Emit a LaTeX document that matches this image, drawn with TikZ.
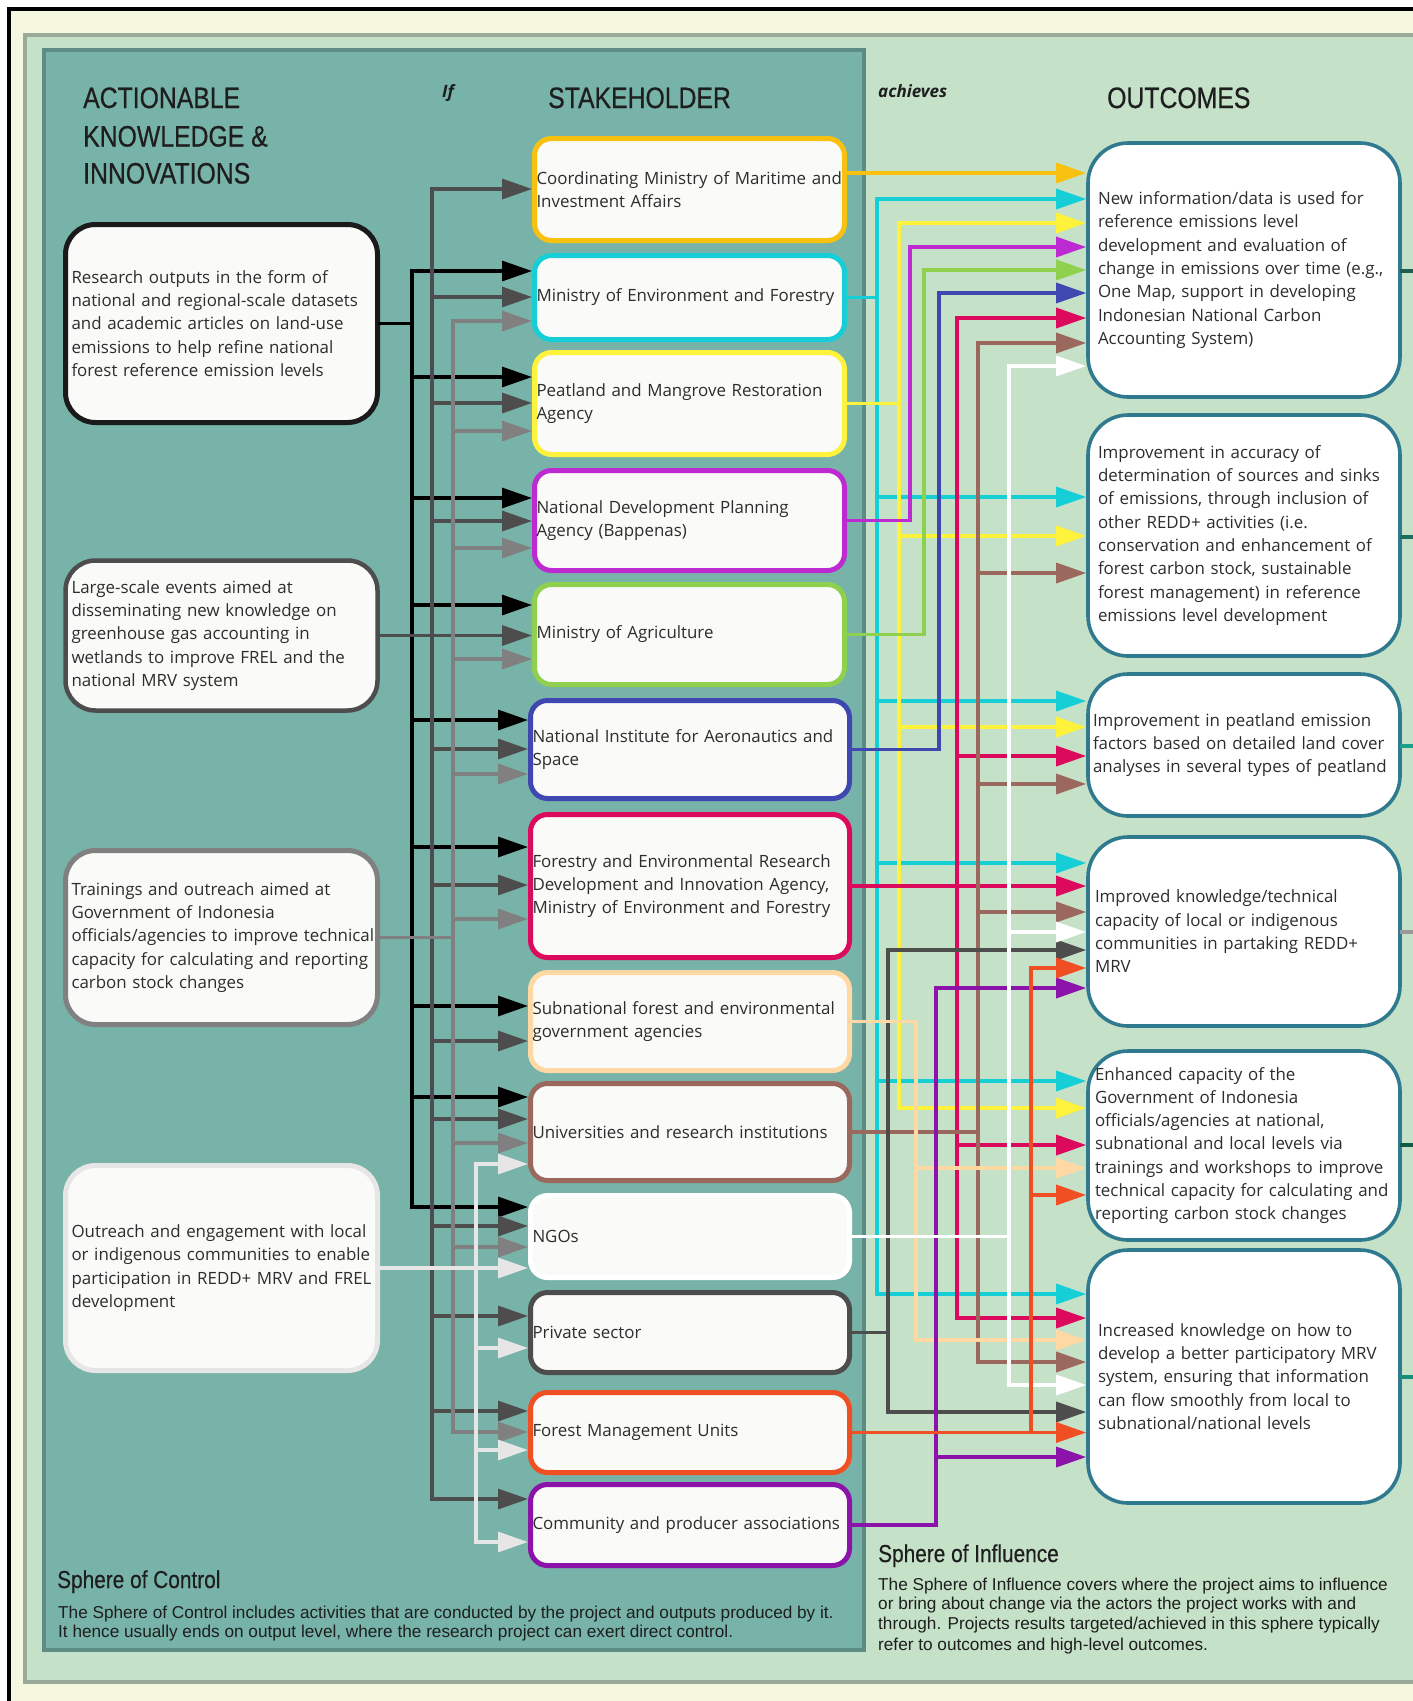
\documentclass[tikz,border=0pt]{standalone}
\usepackage{fontspec}
\setmainfont{Open Sans}
\newfontfamily\hdfont[FakeStretch=0.84,FakeBold=0.5]{Liberation Sans}
\newfontfamily\sphfont[FakeStretch=0.85,FakeBold=0.3]{Liberation Sans}
\newfontfamily\arfont{Liberation Sans}
\usetikzlibrary{arrows.meta}
\definecolor{bgOut}{HTML}{F5F8DF}
\definecolor{infl}{HTML}{C5E1C8}
\definecolor{inflB}{HTML}{99AA99}
\definecolor{ctrl}{HTML}{77B3A8}
\definecolor{ctrlB}{HTML}{5D8C84}
\definecolor{boxF}{HTML}{FAFAF8}
\definecolor{txt}{HTML}{2D2D2D}
\definecolor{hdc}{HTML}{1E1E1E}
\definecolor{outB}{HTML}{2F7A8E}
\definecolor{cK}{HTML}{000000}
\definecolor{cKb}{HTML}{1A1A1A}
\definecolor{cD}{HTML}{4D4D4D}
\definecolor{cG}{HTML}{808080}
\definecolor{cL}{HTML}{E6E6E6}
\definecolor{cGold}{HTML}{F9C10F}
\definecolor{cCy}{HTML}{16CED6}
\definecolor{cYe}{HTML}{FFF23D}
\definecolor{cPu}{HTML}{BE2AD2}
\definecolor{cGr}{HTML}{8FD14F}
\definecolor{cBl}{HTML}{3F48B0}
\definecolor{cCr}{HTML}{DC0A5C}
\definecolor{cPe}{HTML}{FFD8A3}
\definecolor{cBr}{HTML}{9B685E}
\definecolor{cWh}{HTML}{FFFFFF}
\definecolor{cOr}{HTML}{F04E23}
\definecolor{cPv}{HTML}{8C13A9}
\definecolor{st1}{HTML}{1F5E50}
\definecolor{st2}{HTML}{1D6E60}
\definecolor{st3}{HTML}{1AA08A}
\definecolor{st4}{HTML}{999999}
\definecolor{st5}{HTML}{0E5C48}
\definecolor{st6}{HTML}{178F7A}
\newcommand\ml[1]{\mbox{#1}}
\tikzset{
 body/.style={font=\fontsize{16.9}{23.3}\selectfont, text=txt},
 abox/.style={draw, line width=5pt, rounded corners=30pt, fill=boxF, inner xsep=6pt, inner ysep=0pt, align=left, body, minimum width=312pt, text width=300pt},
 sbox/.style={draw, line width=5pt, rounded corners=17pt, fill=boxF, inner xsep=2pt, inner ysep=0pt, align=left, body},
 sboxA/.style={sbox, minimum width=310pt, text width=306pt},
 sboxB/.style={sbox, minimum width=319pt, text width=315pt},
 obox/.style={draw=outB, line width=3.6pt, rounded corners=40pt, fill=white, inner ysep=0pt, align=left, body, minimum width=312pt},
 conn/.style={line width=3.3pt, line cap=rect},
 arr/.style={conn, -{Triangle[length=30pt,width=20pt]}},
 hd/.style={anchor=base west, inner sep=0pt, font=\hdfont\fontsize{29.5}{36}\selectfont, text=hdc},
 sph/.style={anchor=base west, inner sep=0pt, font=\sphfont\fontsize{24.5}{30}\selectfont, text=hdc},
 sbody/.style={anchor=base west, inner sep=0pt, font=\arfont\fontsize{17.2}{20}\selectfont, text=hdc},
 conj/.style={anchor=base west, inner sep=0pt, font=\bfseries\itshape\fontsize{17}{20}\selectfont, text=hdc},
}
\begin{document}
\begin{tikzpicture}[x=1pt,y=-1pt]
\useasboundingbox (0,0) rectangle (1413,1701);
\clip (0,0) rectangle (1413,1701);
\fill[white] (0,0) rectangle (1413,1701);
\draw[line width=4pt, fill=bgOut] (9,9) rectangle (1440,1730);
\draw[line width=4pt, draw=inflB, fill=infl] (25,35) rectangle (1440,1682);
\draw[line width=4pt, draw=ctrlB, fill=ctrl] (44,50) rectangle (864,1650);

% headings
\node[hd] (hA1) at (83,108) {ACTIONABLE};
\node[hd] (hA2) at (83,146.5) {KNOWLEDGE \&};
\node[hd] (hA3) at (83,183.5) {INNOVATIONS};
\node[hd] (hS) at (548,108) {STAKEHOLDER};
\node[hd] (hO) at (1107,108) {OUTCOMES};
\node[conj] (cIf) at (442,97) {If};
\node[conj] (cAch) at (878,97) {achieves};

% actionable knowledge boxes
\node[abox, draw=cKb, minimum height=198pt] (a1) at (221.5,323.5) {\ml{Research outputs in the form of}\\\ml{national and regional-scale datasets}\\\ml{and academic articles on land-use}\\\ml{emissions to help refine national}\\\ml{forest reference emission levels}};
\node[abox, draw=cD, line width=4.5pt, minimum height=150pt] (a2) at (221.5,635.5) {\ml{Large-scale events aimed at}\\\ml{disseminating new knowledge on}\\\ml{greenhouse gas accounting in}\\\ml{wetlands to improve FREL and the}\\\ml{national MRV system}};
\node[abox, draw=cG, minimum height=174pt] (a3) at (221.5,937.5) {\ml{Trainings and outreach aimed at}\\\ml{Government of Indonesia}\\\ml{officials/agencies to improve technical}\\\ml{capacity for calculating and reporting}\\\ml{carbon stock changes}};
\node[abox, draw=cL, minimum height=205pt] (a4) at (221.5,1268) {\ml{Outreach and engagement with local}\\\ml{or indigenous communities to enable}\\\ml{participation in REDD+ MRV and FREL}\\\ml{development}};

% stakeholder boxes
\node[sboxA, draw=cGold, minimum height=102pt] (s1) at (689.5,189.5) {\ml{Coordinating Ministry of Maritime and}\\\ml{Investment Affairs}};
\node[sboxA, draw=cCy, minimum height=84pt] (s2) at (689.5,297.5) {\ml{Ministry of Environment and Forestry}};
\node[sboxA, draw=cYe, minimum height=102pt] (s3) at (689.5,403.5) {\ml{Peatland and Mangrove Restoration}\\\ml{Agency}};
\node[sboxA, draw=cPu, minimum height=100pt] (s4) at (689.5,520.5) {\ml{National Development Planning}\\\ml{Agency (Bappenas)}};
\node[sboxA, draw=cGr, minimum height=100pt] (s5) at (689.5,634.5) {\ml{Ministry of Agriculture}};
\node[sboxB, draw=cBl, minimum height=98pt] (s6) at (690,749.5) {\ml{National Institute for Aeronautics and}\\\ml{Space}};
\node[sboxB, draw=cCr, minimum height=143pt] (s7) at (690,886) {\ml{Forestry and Environmental Research}\\\ml{Development and Innovation Agency,}\\\ml{Ministry of Environment and Forestry}};
\node[sboxB, draw=cPe, minimum height=98pt] (s8) at (690,1021.5) {\ml{Subnational forest and environmental}\\\ml{government agencies}};
\node[sboxB, draw=cBr, minimum height=97pt] (s9) at (690,1132) {\ml{Universities and research institutions}};
\node[sboxB, draw=cWh, minimum height=82pt] (s10) at (690,1236.5) {\ml{NGOs}};
\node[sboxB, draw=cD, minimum height=80pt] (s11) at (690,1332.5) {\ml{Private sector}};
\node[sboxB, draw=cOr, minimum height=80pt] (s12) at (690,1432.5) {\ml{Forest Management Units}};
\node[sboxB, draw=cPv, minimum height=81pt] (s13) at (690,1525) {\ml{Community and producer associations}};

% outcome boxes
\node[obox, inner xsep=10pt, text width=292pt, minimum height=254pt] (o1) at (1244,270) {\ml{New information/data is used for}\\\ml{reference emissions level}\\\ml{development and evaluation of}\\\ml{change in emissions over time (e.g.,}\\\ml{One Map, support in developing}\\\ml{Indonesian National Carbon}\\\ml{Accounting System)}};
\node[obox, inner xsep=10pt, text width=292pt, minimum height=241pt] (o2) at (1244,535.5) {\ml{Improvement in accuracy of}\\\ml{determination of sources and sinks}\\\ml{of emissions, through inclusion of}\\\ml{other REDD+ activities (i.e.}\\\ml{conservation and enhancement of}\\\ml{forest carbon stock, sustainable}\\\ml{forest management) in reference}\\\ml{emissions level development}};
\node[obox, inner xsep=5pt, text width=302pt, minimum height=142pt] (o3) at (1244,745) {\ml{Improvement in peatland emission}\\\ml{factors based on detailed land cover}\\\ml{analyses in several types of peatland}};
\node[obox, inner xsep=7pt, text width=298pt, minimum height=189pt] (o4) at (1244,931.5) {\ml{Improved knowledge/technical}\\\ml{capacity of local or indigenous}\\\ml{communities in partaking REDD+}\\\ml{MRV}};
\node[obox, inner xsep=7pt, text width=298pt, minimum height=189pt] (o5) at (1244,1145.5) {\ml{Enhanced capacity of the}\\\ml{Government of Indonesia}\\\ml{officials/agencies at national,}\\\ml{subnational and local levels via}\\\ml{trainings and workshops to improve}\\\ml{technical capacity for calculating and}\\\ml{reporting carbon stock changes}};
\node[obox, inner xsep=10pt, text width=292pt, minimum height=253pt] (o6) at (1244,1376.5) {\ml{Increased knowledge on how to}\\\ml{develop a better participatory MRV}\\\ml{system, ensuring that information}\\\ml{can flow smoothly from local to}\\\ml{subnational/national levels}};

% stubs to the right
\coordinate (e1) at (1430,271);
\coordinate (e2) at (1430,537);
\coordinate (e3) at (1430,746);
\coordinate (e4) at (1430,932);
\coordinate (e5) at (1430,1145);
\coordinate (e6) at (1430,1377);
\draw[conn,st1] (o1.east |- e1) -- (e1);
\draw[conn,st2] (o2.east |- e2) -- (e2);
\draw[conn,st3] (o3.east |- e3) -- (e3);
\draw[conn,st4] (o4.east |- e4) -- (e4);
\draw[conn,st5] (o5.east |- e5) -- (e5);
\draw[conn,st6] (o6.east |- e6) -- (e6);

% left buses
\coordinate (bK) at (412,0);
\coordinate (bD) at (432,0);
\coordinate (bG) at (453,0);
\coordinate (bL) at (476,0);
\draw[conn,cK] (bK |- 0,271) -- (bK |- 0,1207);
\foreach \nn/\yy in {s2/271,s3/377,s4/498,s5/605,s6/720,s7/847,s8/1006,s9/1097,s10/1207}
  \draw[arr,cK] (bK |- 0,\yy) -- (\nn.west |- 0,\yy);
\draw[conn,cD] (bD |- 0,189) -- (bD |- 0,1499);
\foreach \nn/\yy in {s1/189,s2/297,s3/403,s4/521,s5/635.5,s6/749,s7/885,s8/1041,s9/1119,s10/1226,s11/1316,s12/1411,s13/1499}
  \draw[arr,cD] (bD |- 0,\yy) -- (\nn.west |- 0,\yy);
\draw[conn,cG] (bG |- 0,321) -- (bG |- 0,1432);
\foreach \nn/\yy in {s2/321,s3/431,s4/548,s5/659,s6/774,s7/919,s9/1143,s10/1247,s12/1432}
  \draw[arr,cG] (bG |- 0,\yy) -- (\nn.west |- 0,\yy);
\draw[conn,cL] (bL |- 0,1164) -- (bL |- 0,1542);
\foreach \nn/\yy in {s9/1164,s10/1268,s11/1348,s12/1450,s13/1542}
  \draw[arr,cL] (bL |- 0,\yy) -- (\nn.west |- 0,\yy);
\draw[conn,cK] (a1.east) -- (bK |- a1.east);
\draw[conn,cD] (a2.east) -- (bD |- a2.east);
\draw[conn,cG] (a3.east) -- (bG |- a3.east);
\draw[conn,cL] (a4.east) -- (bL |- a4.east);

% right connectors
\coordinate (vCy) at (877,0);
\coordinate (vDk) at (888,0);
\coordinate (vYe) at (899,0);
\coordinate (vPu) at (910,0);
\coordinate (vPe) at (916,0);
\coordinate (vGr) at (924,0);
\coordinate (vPv) at (936,0);
\coordinate (vBl) at (939,0);
\coordinate (vCr) at (957,0);
\coordinate (vBr) at (978,0);
\coordinate (vWh) at (1009,0);
\coordinate (vOr) at (1031,0);

\draw[arr,cGold] (s1.east |- 0,173) -- (o1.west |- 0,173);

\draw[conn,cCy] (s2.east) -- (vCy |- s2.east);
\draw[conn,cCy] (vCy |- 0,199) -- (vCy |- 0,1294);
\foreach \nn/\yy in {o1/199,o2/497,o3/701,o4/863,o5/1081,o6/1294}
  \draw[arr,cCy] (vCy |- 0,\yy) -- (\nn.west |- 0,\yy);

\draw[conn,cYe] (s3.east) -- (vYe |- s3.east);
\draw[conn,cYe] (vYe |- 0,223) -- (vYe |- 0,1108);
\foreach \nn/\yy in {o1/223,o2/536,o3/727,o5/1108}
  \draw[arr,cYe] (vYe |- 0,\yy) -- (\nn.west |- 0,\yy);

\draw[arr,cPu] (s4.east) -- (vPu |- s4.east) -- (vPu |- 0,247) -- (o1.west |- 0,247);
\draw[arr,cGr] (s5.east) -- (vGr |- s5.east) -- (vGr |- 0,270) -- (o1.west |- 0,270);
\draw[arr,cBl] (s6.east) -- (vBl |- s6.east) -- (vBl |- 0,293) -- (o1.west |- 0,293);

\draw[arr,cCr] (s7.east) -- (o4.west |- s7.east);
\draw[conn,cCr] (vCr |- 0,318) -- (vCr |- 0,1318);
\foreach \nn/\yy in {o1/318,o3/756,o5/1145,o6/1318}
  \draw[arr,cCr] (vCr |- 0,\yy) -- (\nn.west |- 0,\yy);

\draw[conn,cBr] (s9.east) -- (vBr |- s9.east);
\draw[conn,cBr] (vBr |- 0,343) -- (vBr |- 0,1362);
\foreach \nn/\yy in {o1/343,o2/573,o3/784,o4/912,o6/1362}
  \draw[arr,cBr] (vBr |- 0,\yy) -- (\nn.west |- 0,\yy);

\draw[conn,cD] (s11.east) -- (vDk |- s11.east);
\draw[conn,cD] (vDk |- 0,950) -- (vDk |- 0,1412);
\foreach \nn/\yy in {o4/950,o6/1412}
  \draw[arr,cD] (vDk |- 0,\yy) -- (\nn.west |- 0,\yy);

\draw[conn,cPe] (s8.east) -- (vPe |- s8.east);
\draw[conn,cPe] (vPe |- s8.east) -- (vPe |- 0,1340);
\foreach \nn/\yy in {o5/1168,o6/1340}
  \draw[arr,cPe] (vPe |- 0,\yy) -- (\nn.west |- 0,\yy);

\draw[conn,cPv] (s13.east) -- (vPv |- s13.east);
\draw[conn,cPv] (vPv |- 0,988) -- (vPv |- s13.east);
\foreach \nn/\yy in {o4/988,o6/1457}
  \draw[arr,cPv] (vPv |- 0,\yy) -- (\nn.west |- 0,\yy);

\draw[conn,cWh] (s10.east) -- (vWh |- s10.east);
\foreach \nn/\yy in {o1/366,o4/932,o6/1385}
  \draw[arr,cWh] (vWh |- 0,\yy) -- (\nn.west |- 0,\yy);
\draw[conn,cWh] (vWh |- 0,366) -- (vWh |- 0,1385);

\draw[arr,cOr] (s12.east) -- (o6.west |- s12.east);
\draw[conn,cOr] (vOr |- 0,968) -- (vOr |- 0,1432);
\foreach \nn/\yy in {o4/968,o5/1195}
  \draw[arr,cOr] (vOr |- 0,\yy) -- (\nn.west |- 0,\yy);

% sphere texts
\node[sph] (sc) at (57,1588) {Sphere of Control};
\node[sbody] (sc1) at (58,1618) {The Sphere of Control includes activities that are conducted by the project and outputs produced by it.};
\node[sbody] (sc2) at (58,1637) {It hence usually ends on output level, where the research project can exert direct control.};
\node[sph] (si) at (878,1562) {Sphere of Influence};
\node[sbody] (si1) at (878,1590) {The Sphere of Influence covers where the project aims to influence};
\node[sbody] (si2) at (878,1609.5) {or bring about change via the actors the project works with and};
\node[sbody] (si3) at (878,1629.5) {through. Projects results targeted/achieved in this sphere typically};
\node[sbody] (si4) at (878,1650) {refer to outcomes and high-level outcomes.};
\end{tikzpicture}
\end{document}
